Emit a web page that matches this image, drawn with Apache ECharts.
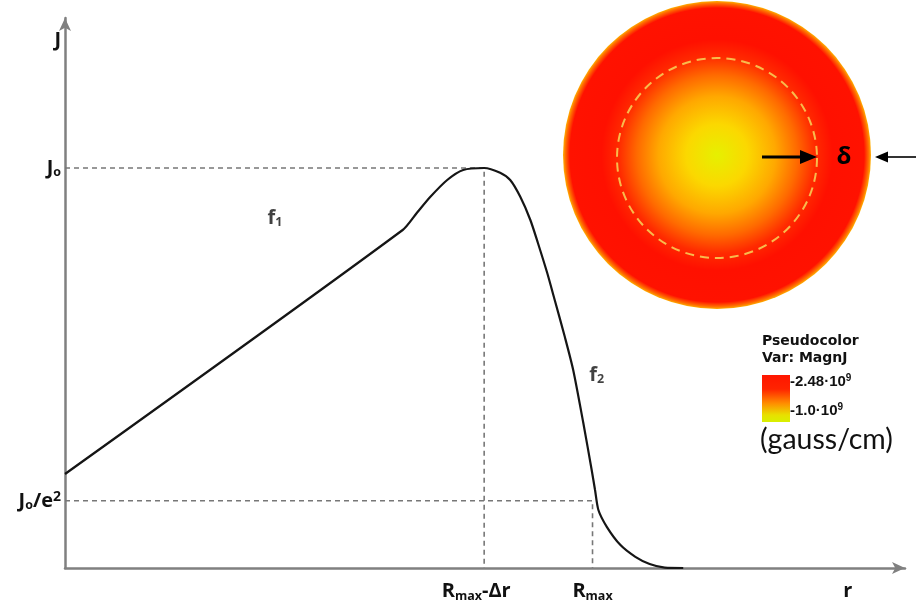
<!DOCTYPE html>
<html><head><meta charset="utf-8">
<script src="https://cdn.jsdelivr.net/npm/echarts@6/dist/echarts.min.js"></script>
<style>html,body{margin:0;padding:0;background:#fff}#c{width:916px;height:607px}</style>
</head><body><div id="c"></div>
<script>
// Current-density profile J(r) in arbitrary units: r on 0..100, J normalised so that J_o = 1
const rValues = [0, 40.2, 41.9, 43.5, 45.5, 47.4, 49.9, 51.8, 53.0, 54.2, 55.4, 56.3, 57.4, 58.3, 59.5, 60.5, 61.7, 62.7, 63.1, 63.5, 64.5, 66.1, 67.9, 69.6, 71.4, 73.6];
const jValues = [0.235, 0.845, 0.888, 0.928, 0.97, 0.995, 1.0, 0.988, 0.97, 0.928, 0.87, 0.8125, 0.738, 0.67, 0.578, 0.495, 0.363, 0.245, 0.195, 0.145, 0.103, 0.058, 0.028, 0.01, 0.001, 0];

const peakR = 49.9;   // R_max − Δr
const edgeR = 62.8;   // R_max
const peakJ = 1.0;    // J_o
const edgeJ = 0.168;  // J_o/e²

const xTickValues = [peakR, edgeR, 93.2];
const xTickLabels = ['{t|R}{s|max}{t|-Δr}{gap|}', '{t|R}{s|max}', '{t|r}'];
const yTickValues = [1.32, peakJ, edgeJ];
const yTickLabels = ['{t|J}', '{t|J}{s|o}', '{t|J}{s|o}{t|/e}{p|2}'];

// region labels of the profile
const regionNames = ['f1', 'f2'];
const regionR = [25, 63.3];
const regionJ = [0.875, 0.4825];

const legendTitle = ['Pseudocolor', 'Var: MagnJ'];
const legendMax = '2.48·10';
const legendMin = '1.0·10';
const legendUnit = '(gauss/cm)';

const labelFont = '"Open Sans"';
const richAxis = {
  t: {fontFamily: labelFont, fontWeight: 700, fontSize: 20, color: '#111', lineHeight: 23},
  s: {fontFamily: labelFont, fontWeight: 700, fontSize: 12.5, color: '#111', padding: [9, 0, 0, 0]},
  p: {fontFamily: labelFont, fontWeight: 700, fontSize: 14, color: '#111', padding: [0, 0, 8, 0]},
  gap: {width: 16}
};

const chart = echarts.init(document.getElementById('c'), null, {renderer: 'canvas'});

const curve = rValues.map((r, i) => [r, jValues[i]]);
const axisGray = '#808080';

chart.setOption({
  animation: false,
  backgroundColor: '#fff',
  grid: {left: 65, right: 11, top: 18, bottom: 39, containLabel: false},
  xAxis: {
    type: 'value', min: 0, max: 100,
    axisLine: {show: true, symbol: ['none', 'arrow'], symbolSize: [9, 13],
      lineStyle: {color: axisGray, width: 2.5}},
    axisTick: {show: false},
    splitLine: {show: false},
    axisLabel: {
      customValues: xTickValues, margin: 12,
      formatter: v => xTickLabels[xTickValues.indexOf(v)] || '',
      rich: richAxis
    }
  },
  yAxis: {
    type: 'value', min: 0, max: 1.375,
    axisLine: {show: true, symbol: ['none', 'arrow'], symbolSize: [9, 13],
      lineStyle: {color: axisGray, width: 2.5}},
    axisTick: {show: false},
    splitLine: {show: false},
    axisLabel: {
      customValues: yTickValues, margin: 4,
      formatter: v => yTickLabels[yTickValues.indexOf(v)] || '',
      rich: richAxis
    }
  },
  series: [
    {
      type: 'line', data: [[0, peakJ], [peakR, peakJ], [peakR, 0]],
      symbol: 'none', lineStyle: {color: '#777', width: 1.6, type: [5, 4]}, z: 1
    },
    {
      type: 'line', data: [[0, edgeJ], [edgeR, edgeJ], [edgeR, 0]],
      symbol: 'none', lineStyle: {color: '#777', width: 1.6, type: [5, 4]}, z: 1
    },
    {
      type: 'line', data: curve, smooth: 0.25, symbol: 'none', clip: false,
      lineStyle: {color: '#151515', width: 2.2}, z: 3
    },
    {
      type: 'scatter', symbolSize: 0,
      data: regionNames.map((n, i) => ({value: [regionR[i], regionJ[i]], name: n})),
      label: {
        show: true, position: 'inside',
        formatter: p => '{t|' + p.name[0] + '}{s|' + p.name.slice(1) + '}',
        rich: richAxis
      }
    }
  ],
  graphic: [
    // cross-section of the conductor coloured by |J|
    {type: 'circle', shape: {cx: 717, cy: 155, r: 154}, z: 10,
      style: {fill: new echarts.graphic.RadialGradient(0.5, 0.5, 0.5, [
        {offset: 0, color: '#e6f000'},
        {offset: 0.2, color: '#fbd800'},
        {offset: 0.38, color: '#ffa800'},
        {offset: 0.52, color: '#ff6a00'},
        {offset: 0.64, color: '#ff2a00'},
        {offset: 0.75, color: '#ff1000'},
        {offset: 0.955, color: '#ff1200'},
        {offset: 0.985, color: '#ff7000'},
        {offset: 1, color: '#ffb000'}
      ])}},
    {type: 'circle', shape: {cx: 717, cy: 158, r: 100}, z: 11,
      style: {fill: null, stroke: '#f8bb4c', lineWidth: 2, lineDash: [9, 6]}},
    {type: 'line', shape: {x1: 762, y1: 157, x2: 804, y2: 157}, z: 12,
      style: {stroke: '#000', lineWidth: 3}},
    {type: 'polygon', shape: {points: [[817, 157], [800, 150], [800, 164]]}, z: 12,
      style: {fill: '#000'}},
    {type: 'line', shape: {x1: 886, y1: 157, x2: 916, y2: 157}, z: 12,
      style: {stroke: '#000', lineWidth: 1.6}},
    {type: 'polygon', shape: {points: [[875, 157], [888, 151.5], [888, 162.5]]}, z: 12,
      style: {fill: '#000'}},
    {type: 'text', x: 844, y: 157, z: 12,
      style: {text: 'δ', fill: '#000', font: 'bold 24px "Open Sans"', align: 'center', verticalAlign: 'middle'}},
    // colour bar legend
    {type: 'text', x: 762, y: 341, z: 12,
      style: {text: legendTitle[0], fill: '#111', font: 'bold 14px "DejaVu Sans"', verticalAlign: 'middle'}},
    {type: 'text', x: 762, y: 358, z: 12,
      style: {text: legendTitle[1], fill: '#111', font: 'bold 14px "DejaVu Sans"', verticalAlign: 'middle'}},
    {type: 'rect', shape: {x: 762, y: 375, width: 28, height: 47}, z: 12,
      style: {fill: new echarts.graphic.LinearGradient(0, 0, 0, 1, [
        {offset: 0, color: '#ff1600'},
        {offset: 0.3, color: '#ff2400'},
        {offset: 0.6, color: '#ff8c00'},
        {offset: 0.85, color: '#e8e000'},
        {offset: 1, color: '#d8f000'}
      ])}},
    {type: 'text', x: 790, y: 382, z: 12,
      style: {text: '{n|-' + legendMax + '}{e|9}', verticalAlign: 'middle',
        rich: {n: {font: 'bold 15px "Liberation Sans"', fill: '#111'},
               e: {font: 'bold 10px "Liberation Sans"', fill: '#111', padding: [0, 0, 8, 0]}}}},
    {type: 'text', x: 790, y: 411, z: 12,
      style: {text: '{n|-' + legendMin + '}{e|9}', verticalAlign: 'middle',
        rich: {n: {font: 'bold 15px "Liberation Sans"', fill: '#111'},
               e: {font: 'bold 10px "Liberation Sans"', fill: '#111', padding: [0, 0, 8, 0]}}}},
    {type: 'text', x: 760, y: 440, z: 12,
      style: {text: legendUnit, fill: '#111', font: '28.5px Lato', verticalAlign: 'middle'}}
  ]
});
</script>
</body></html>
